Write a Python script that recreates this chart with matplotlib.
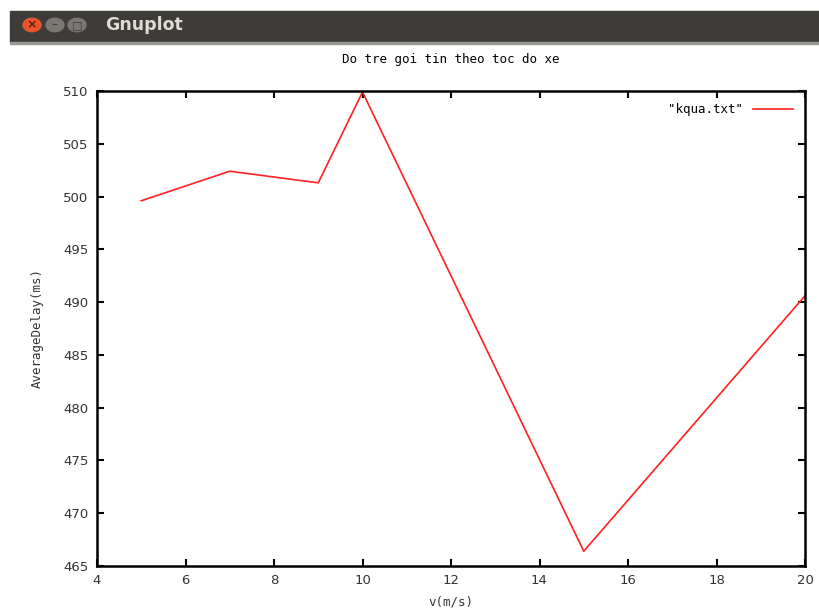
import matplotlib
matplotlib.use("Agg")
import matplotlib.pyplot as plt
from matplotlib.patches import Rectangle, Circle

# data
speed = [5, 7, 9, 10, 15, 20]
delay = [499.6, 502.4, 501.3, 509.9, 466.4, 490.6]
x_ticks = [4, 6, 8, 10, 12, 14, 16, 18, 20]
y_ticks = [465, 470, 475, 480, 485, 490, 495, 500, 505, 510]

W, H = 819, 613
fig = plt.figure(figsize=(W / 100, H / 100), dpi=100)
fig.patch.set_facecolor("white")

# window title bar (Ubuntu style)
fig.patches.append(Rectangle((10 / W, 1 - 42 / H), 1 - 10 / W, 31 / H,
                             transform=fig.transFigure, color="#3d3c38", zorder=0))
fig.patches.append(Rectangle((10 / W, 1 - 44 / H), 1 - 10 / W, 2 / H,
                             transform=fig.transFigure, color="#9a9893", zorder=0))
for cx, col in [(32, "#e9542c"), (55, "#7a7873"), (77, "#7a7873")]:
    fig.patches.append(Circle((cx / W, 1 - 25 / H), 9 / W, transform=fig.transFigure,
                              color=col, zorder=1))
fig.text(32 / W, 1 - 25 / H, "×", color="#5a2010", fontsize=9, ha="center", va="center",
         fontweight="bold")
fig.text(55 / W, 1 - 25 / H, "–", color="#3d3c38", fontsize=9, ha="center", va="center")
fig.text(77 / W, 1 - 25 / H, "□", color="#3d3c38", fontsize=8, ha="center", va="center")
fig.text(105 / W, 1 - 25 / H, "Gnuplot", color="#dfdbd2", fontsize=12.5,
         fontweight="bold", ha="left", va="center", family="Ubuntu" if False else "DejaVu Sans")

ax = fig.add_axes([97 / W, 1 - 566 / H, (805 - 97) / W, (566 - 91) / H])
ax.plot(speed, delay, color="#ff2020", lw=1.2, label='"kqua.txt"')

ax.set_xlim(4, 20)
ax.set_ylim(465, 510)
ax.set_xticks(x_ticks)
ax.set_yticks(y_ticks)
ax.tick_params(direction="in", length=5, width=1.5, top=True, right=True,
               labelsize=9.5, colors="black", pad=6)
for lab in ax.get_xticklabels() + ax.get_yticklabels():
    lab.set_color("#333333")
for s in ax.spines.values():
    s.set_linewidth(1.8)

mono = "DejaVu Sans Mono"
ax.set_title("Do tre goi tin theo toc do xe", fontsize=9, family=mono, pad=20)
ax.set_xlabel("v(m/s)", fontsize=9, family=mono, labelpad=6, color="#333333")
ax.set_ylabel("AverageDelay(ms)", fontsize=9, family=mono, labelpad=14, color="#333333")

leg = ax.legend(loc="upper right", frameon=False, markerfirst=False, handlelength=3.2,
                prop={"family": mono, "size": 9}, borderaxespad=0.6)

fig.savefig("out.png", dpi=100)
